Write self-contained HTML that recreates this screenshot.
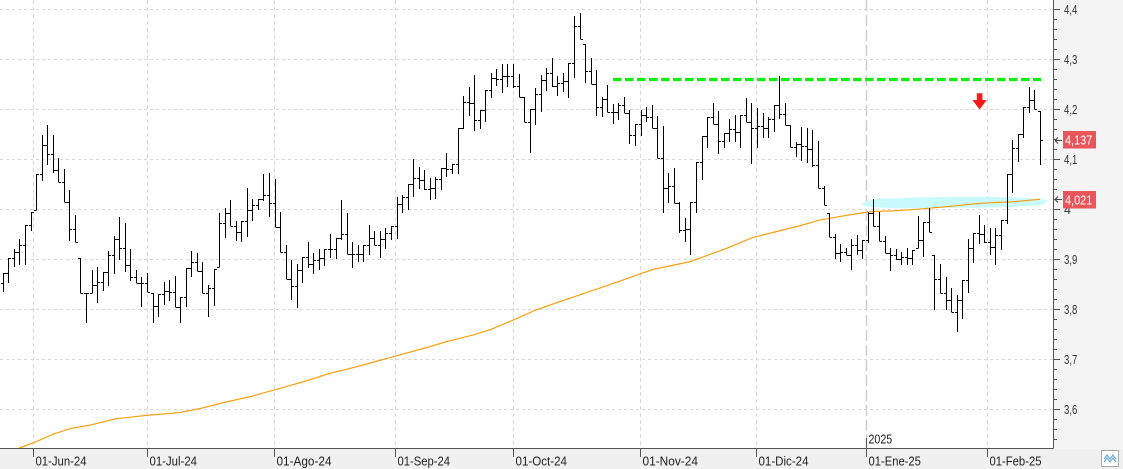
<!DOCTYPE html>
<html><head><meta charset="utf-8"><style>
html,body{margin:0;padding:0;background:#fff;}
svg{display:block;font-family:"Liberation Sans",sans-serif;}
</style></head><body>
<svg id="c" width="1123" height="469" viewBox="0 0 1123 469" xmlns="http://www.w3.org/2000/svg">
<rect x="0" y="0" width="1123" height="469" fill="#ffffff"/>
<rect x="1054" y="0" width="69" height="449" fill="#f4f4f4"/>
<rect x="0" y="449" width="1123" height="20" fill="#f0f0f0"/>
<!-- horizontal grid -->
<g stroke="#d9d9d9" stroke-width="1" stroke-dasharray="3 3">
<path d="M0 9.5H1053M0 59.5H1053M0 109.5H1053M0 159.5H1053M0 209.5H1053M0 259.5H1053M0 309.5H1053M0 359.5H1053M0 409.5H1053"/>
</g>
<!-- vertical grid -->
<g stroke="#d9d9d9" stroke-width="1" stroke-dasharray="4 3">
<path d="M33.5 0V448M147.5 0V448M274.5 0V448M395.5 0V448M513.5 0V448M640.5 0V448M756.5 0V448M987.5 0V448"/>
</g>
<path d="M866.5 0V448" stroke="#cfcfcf" stroke-width="1.5" stroke-dasharray="11 4"/>
<!-- cyan highlight -->
<path d="M862 204 C866 201 870 199.7 880 198.8 L920 197.3 L960 196.7 L1000 197 L1040 198.6 C1045 199.3 1048 200.5 1047 201.5 C1046 203.5 1042 204.8 1040 205.2 L1000 207.3 L950 208 L900 208.3 L872 207.2 C866 206.5 862 205.5 862 204 Z" fill="#c9fbfc"/>
<!-- moving average -->
<polyline fill="none" stroke="#ff9900" stroke-width="1.1" points="18,448.5 21,447.3 33.5,442.7 53.6,434 71.4,428.3 89.3,425.3 116,418.7 147.3,415.3 178.6,412.7 201,408.3 223,402.7 250,396.7 274,390 303.6,381.7 330,373.3 357,366.7 395.5,356 424,348.3 446.4,341.7 473,335 491,329.3 513.4,320 535.7,310 562.5,300.7 600,288 653.3,269.3 690,261.7 726.7,248.3 753.3,237.3 780,230.7 800,225.7 820,220 846.7,215.3 870,211.7 896.7,210.7 920,209 946.7,206.7 980,203.3 1013.3,201.7 1040,199.3"/>
<!-- green dashed resistance -->
<path d="M613 79.5H1041" stroke="#11ee11" stroke-width="3.2" stroke-dasharray="8.5 3.5"/>
<!-- red arrow -->
<polygon points="976.8,93.3 982.4,93.3 982.4,100 986.7,100 979.6,109.5 972.4,100 976.8,100" fill="#ff1a1a"/>
<!-- bars -->
<path id="bars" fill="none" stroke="#000" stroke-width="1" d="M3.5 273V292M8.5 258V283M14.5 249V267M19.5 239V265M25.5 225V265M31.5 212V231M36.5 174V210M42.5 135V181M47.5 125V165M53.5 135V173M58.5 158V182M64.5 169V202M69.5 190V241M75.5 215V242M80.5 258V293M86.5 293V323M92.5 270V293M97.5 267V303M103.5 272V291M108.5 251V286M114.5 236V274M119.5 217V260M125.5 223V272M130.5 249V281M136.5 270V283M141.5 277V307M147.5 273V292M153.5 293V323M158.5 294V317M164.5 282V305M169.5 280V301M175.5 276V307M180.5 297V323M186.5 268V307M191.5 251V277M197.5 253V271M202.5 262V293M208.5 285V317M214.5 269V306M219.5 213V267M225.5 208V238M230.5 200V226M236.5 221V241M241.5 221V242M247.5 188V237M252.5 199V221M258.5 199V210M263.5 174V201M269.5 173V217M275.5 179V227M280.5 212V252M286.5 245V279M291.5 260V300M297.5 264V308M302.5 257V283M308.5 242V268M313.5 253V274M319.5 249V270M324.5 249V266M330.5 234V258M336.5 238V259M341.5 200V240M347.5 213V254M352.5 242V268M358.5 245V262M363.5 245V262M369.5 225V255M374.5 231V245M380.5 231V258M385.5 228V249M391.5 226V240M397.5 197V239M402.5 195V213M408.5 184V210M413.5 159V197M419.5 167V189M424.5 170V190M430.5 178V200M435.5 177V199M441.5 168V190M446.5 153V177M452.5 164V174M458.5 128V174M463.5 96V129M469.5 87V116M474.5 75V131M480.5 110V129M485.5 90V122M491.5 73V98M496.5 69V86M502.5 64V93M507.5 64V87M513.5 64V88M519.5 74V97M524.5 97V122M530.5 109V153M535.5 88V125M541.5 75V112M546.5 68V91M552.5 58V87M557.5 76V96M563.5 73V92M568.5 63V98M574.5 16V78M580.5 13V39M585.5 44V83M591.5 58V84M596.5 70V116M602.5 97V117M607.5 85V112M613.5 104V124M618.5 103V120M624.5 97V113M629.5 110V144M635.5 124V146M641.5 110V136M646.5 107V122M652.5 105V128M657.5 116V158M663.5 126V213M668.5 173V203M674.5 168V203M679.5 202V233M685.5 218V242M690.5 202V255M696.5 162V213M702.5 136V180M707.5 117V148M713.5 103V124M718.5 111V154M724.5 133V148M729.5 119V142M735.5 115V142M740.5 115V148M746.5 98V122M751.5 103V164M757.5 108V148M763.5 113V138M768.5 117V138M774.5 105V132M779.5 76V119M785.5 103V125M790.5 125V147M796.5 142V157M801.5 127V161M807.5 128V163M812.5 130V167M818.5 141V188M824.5 186V205M829.5 213V237M835.5 234V259M840.5 244V262M846.5 248V255M851.5 239V270M857.5 235V255M862.5 240V259M868.5 212V243M873.5 199V226M879.5 212V241M885.5 236V253M890.5 248V271M896.5 249V260M901.5 252V265M907.5 248V265M912.5 250V265M918.5 216V248M923.5 222V257M929.5 208V232M934.5 255V310M940.5 264V293M946.5 277V310M951.5 288V312M957.5 295V332M962.5 280V319M968.5 239V293M973.5 233V263M979.5 215V244M984.5 225V243M990.5 228V255M995.5 228V265M1001.5 220V250M1007.5 174V224M1012.5 140V193M1018.5 134V162M1023.5 107V138M1029.5 87V113M1034.5 90V109M1040.5 111V165"/>
<path id="ticks" fill="none" stroke="#000" stroke-width="1" d=""/>
<!-- axes -->
<path d="M1053.5 0V448.5M0 448.5H1053.5" stroke="#555" stroke-width="1" fill="none"/>
<path stroke="#555" stroke-width="1" fill="none" d="M1053 9.5h7M1053 59.5h7M1053 109.5h7M1053 159.5h7M1053 209.5h7M1053 259.5h7M1053 309.5h7M1053 359.5h7M1053 409.5h7M1053 19.5h4M1053 29.5h4M1053 39.5h4M1053 49.5h4M1053 69.5h4M1053 79.5h4M1053 89.5h4M1053 99.5h4M1053 119.5h4M1053 129.5h4M1053 139.5h4M1053 149.5h4M1053 169.5h4M1053 179.5h4M1053 189.5h4M1053 199.5h4M1053 219.5h4M1053 229.5h4M1053 239.5h4M1053 249.5h4M1053 269.5h4M1053 279.5h4M1053 289.5h4M1053 299.5h4M1053 319.5h4M1053 329.5h4M1053 339.5h4M1053 349.5h4M1053 369.5h4M1053 379.5h4M1053 389.5h4M1053 399.5h4M1053 419.5h4M1053 429.5h4M1053 439.5h4"/>
<path stroke="#555" stroke-width="1" fill="none" d="M33.5 448V457M147.5 448V457M274.5 448V457M395.5 448V457M513.5 448V457M640.5 448V457M756.5 448V457M866.5 438V457M987.5 448V457"/>
<!-- y labels -->
<g fill="#333" font-size="12.5">
<text x="1064" y="13.8" textLength="13.3" lengthAdjust="spacingAndGlyphs">4,4</text>
<text x="1064" y="63.8" textLength="13.3" lengthAdjust="spacingAndGlyphs">4,3</text>
<text x="1064" y="113.8" textLength="13.3" lengthAdjust="spacingAndGlyphs">4,2</text>
<text x="1064" y="163.8" textLength="13.3" lengthAdjust="spacingAndGlyphs">4,1</text>
<text x="1064" y="213.8">4</text>
<text x="1064" y="263.8" textLength="13.3" lengthAdjust="spacingAndGlyphs">3,9</text>
<text x="1064" y="313.8" textLength="13.3" lengthAdjust="spacingAndGlyphs">3,8</text>
<text x="1064" y="363.8" textLength="13.3" lengthAdjust="spacingAndGlyphs">3,7</text>
<text x="1064" y="413.8" textLength="13.3" lengthAdjust="spacingAndGlyphs">3,6</text>
</g>
<!-- price labels -->
<rect x="1063" y="131" width="33" height="17.5" fill="#e8555a"/>
<text x="1065" y="144.5" fill="#fff" font-size="13" textLength="27.3" lengthAdjust="spacingAndGlyphs">4,137</text>
<rect x="1063" y="191" width="33" height="17.5" fill="#e8555a"/>
<text x="1065" y="204.5" fill="#fff" font-size="13" textLength="27.3" lengthAdjust="spacingAndGlyphs">4,021</text>
<path d="M1055 140.5H1062M1055 140.5L1058 137.5M1055 140.5L1058 143.5M1055 199.5H1062M1055 199.5L1058 196.5M1055 199.5L1058 202.5" stroke="#444" stroke-width="1" fill="none"/>
<!-- x labels -->
<g fill="#222" font-size="12.5">
<text x="35.5" y="465.5" textLength="51" lengthAdjust="spacingAndGlyphs">01-Jun-24</text>
<text x="149.5" y="465.5" textLength="47.5" lengthAdjust="spacingAndGlyphs">01-Jul-24</text>
<text x="276.5" y="465.5" textLength="55" lengthAdjust="spacingAndGlyphs">01-Ago-24</text>
<text x="397.5" y="465.5" textLength="52.5" lengthAdjust="spacingAndGlyphs">01-Sep-24</text>
<text x="515.5" y="465.5" textLength="51.5" lengthAdjust="spacingAndGlyphs">01-Oct-24</text>
<text x="642.5" y="465.5" textLength="55.5" lengthAdjust="spacingAndGlyphs">01-Nov-24</text>
<text x="758.5" y="465.5" textLength="50" lengthAdjust="spacingAndGlyphs">01-Dic-24</text>
<text x="868.5" y="465.5" textLength="52.4" lengthAdjust="spacingAndGlyphs">01-Ene-25</text>
<text x="989.5" y="465.5" textLength="52" lengthAdjust="spacingAndGlyphs">01-Feb-25</text>
<text x="868.5" y="443.5" textLength="23.7" lengthAdjust="spacingAndGlyphs">2025</text>
</g>
<!-- corner icon -->
<rect x="1101.5" y="450.5" width="17" height="16" fill="#fff" stroke="#a8a8a8"/>
<polyline points="1104,459 1107,455 1110,459 1113,455 1116,459" fill="none" stroke="#6fa8dc" stroke-width="1.2"/>
<polyline points="1104,462 1107,458 1110,462 1113,458 1116,462" fill="none" stroke="#6fa8dc" stroke-width="1.2"/>
</svg>
<script>
(function(){
var d=document.getElementById('bars').getAttribute('d');
var re=/M([\d.]+) ([\d.]+)V([\d.]+)/g,m,b=[];
while((m=re.exec(d))){b.push([+m[1],+m[2],+m[3]]);}
function cl(v,h,l){return Math.max(h,Math.min(l,v));}
var n=b.length,c=[],o=[],out='';
for(var i=0;i<n;i++){
var h=b[i][1],l=b[i][2];
var nm=(i<n-1)?(b[i+1][1]+b[i+1][2])/2:140;
c[i]=Math.round(cl(nm,h,l));
if(i==n-1)c[i]=140;
o[i]=Math.round(i>0?cl(c[i-1],h,l):(h+l)/2);
var x=b[i][0];
out+='M'+(x-2.5)+' '+(o[i]+0.5)+'H'+(x)+'M'+(x)+' '+(c[i]+0.5)+'H'+(x+2.5);
}
document.getElementById('ticks').setAttribute('d',out);
})();
</script>
</body></html>
